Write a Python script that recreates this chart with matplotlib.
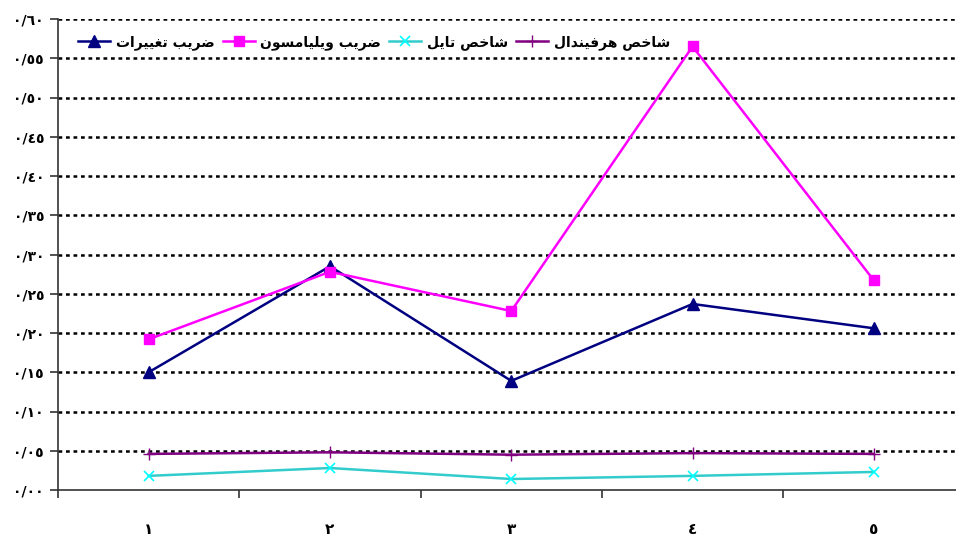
import matplotlib
matplotlib.use("Agg")
import matplotlib.pyplot as plt
from matplotlib.ticker import FixedLocator, NullFormatter

# ---------------------------------------------------------------------
# Data
# ---------------------------------------------------------------------
categories = ["١", "٢", "٣", "٤", "٥"]

cv_values = [0.150, 0.285, 0.139, 0.237, 0.206]          # ضریب تغییرات
williamson_values = [0.192, 0.278, 0.228, 0.565, 0.267]  # ضریب ویلیامسون
theil_values = [0.018, 0.028, 0.014, 0.018, 0.023]       # شاخص تایل
herfindahl_values = [0.046, 0.048, 0.045, 0.047, 0.046]  # شاخص هرفیندال

series_names = ["ضریب تغییرات", "ضریب ویلیامسون", "شاخص تایل", "شاخص هرفیندال"]

ytick_values = [0.00, 0.05, 0.10, 0.15, 0.20, 0.25, 0.30,
                0.35, 0.40, 0.45, 0.50, 0.55, 0.60]
ytick_labels = ["٠/٠٠", "٠/٠٥", "٠/١٠", "٠/١٥", "٠/٢٠", "٠/٢٥", "٠/٣٠",
                "٠/٣٥", "٠/٤٠", "٠/٤٥", "٠/٥٠", "٠/٥٥", "٠/٦٠"]

# ---------------------------------------------------------------------
# matplotlib does no Arabic shaping, so pick the presentation forms by
# hand and reverse the string for right-to-left display.
# forms: (isolated, final, initial, medial)
# ---------------------------------------------------------------------
FORMS = {
    "ا": ("\uFE8D", "\uFE8E", None, None),
    "ب": ("\uFE8F", "\uFE90", "\uFE91", "\uFE92"),
    "ت": ("\uFE95", "\uFE96", "\uFE97", "\uFE98"),
    "خ": ("\uFEA5", "\uFEA6", "\uFEA7", "\uFEA8"),
    "د": ("\uFEA9", "\uFEAA", None, None),
    "ر": ("\uFEAD", "\uFEAE", None, None),
    "س": ("\uFEB1", "\uFEB2", "\uFEB3", "\uFEB4"),
    "ش": ("\uFEB5", "\uFEB6", "\uFEB7", "\uFEB8"),
    "ص": ("\uFEB9", "\uFEBA", "\uFEBB", "\uFEBC"),
    "ض": ("\uFEBD", "\uFEBE", "\uFEBF", "\uFEC0"),
    "غ": ("\uFECD", "\uFECE", "\uFECF", "\uFED0"),
    "ف": ("\uFED1", "\uFED2", "\uFED3", "\uFED4"),
    "ل": ("\uFEDD", "\uFEDE", "\uFEDF", "\uFEE0"),
    "م": ("\uFEE1", "\uFEE2", "\uFEE3", "\uFEE4"),
    "ن": ("\uFEE5", "\uFEE6", "\uFEE7", "\uFEE8"),
    "ه": ("\uFEE9", "\uFEEA", "\uFEEB", "\uFEEC"),
    "و": ("\uFEED", "\uFEEE", None, None),
    "ی": ("\uFBFC", "\uFBFD", "\uFBFE", "\uFBFF"),
}


def dual(ch):
    return ch in FORMS and FORMS[ch][2] is not None


def shape(text):
    out = []
    for i, ch in enumerate(text):
        if ch not in FORMS:
            out.append(ch)
            continue
        prev = text[i - 1] if i > 0 else ""
        nxt = text[i + 1] if i + 1 < len(text) else ""
        join_prev = dual(prev)
        join_next = dual(ch) and nxt in FORMS
        iso, fin, ini, med = FORMS[ch]
        if join_prev and join_next:
            out.append(med)
        elif join_prev:
            out.append(fin)
        elif join_next:
            out.append(ini)
        else:
            out.append(iso)
    return "".join(out)[::-1]


plt.rcParams["font.family"] = ["DejaVu Sans"]
plt.rcParams["font.weight"] = "bold"

fig = plt.figure(figsize=(9.56, 5.37), dpi=100)
ax = fig.add_axes([58 / 956, 47 / 537, 906.5 / 956, 471 / 537])

x = list(range(1, len(categories) + 1))

ax.plot(x, cv_values, color="#000080", lw=1.8, marker="^", ms=9,
        label=shape(series_names[0]), zorder=4)
ax.plot(x, williamson_values, color="#FF00FF", lw=1.8, marker="s", ms=7,
        label=shape(series_names[1]), zorder=4)
ax.plot(x, theil_values, color="#33CCCC", lw=1.8, marker="x", ms=7,
        mec="#00FFFF", mew=1.2, label=shape(series_names[2]), zorder=4)
ax.plot(x, herfindahl_values, color="#800080", lw=1.8, marker="+", ms=8,
        mew=1.0, label=shape(series_names[3]), zorder=4)

ax.set_xlim(0.5, len(categories) + 0.5)
ax.set_ylim(0, 0.60)

# category labels centred, ticks between categories
ax.xaxis.set_major_locator(FixedLocator([i + 0.5 for i in range(len(categories) + 1)]))
ax.xaxis.set_major_formatter(NullFormatter())
ax.xaxis.set_minor_locator(FixedLocator(x))
ax.set_xticklabels(categories, minor=True, fontsize=11, fontweight="bold")
ax.tick_params(axis="x", which="major", length=6, width=1.2, color="#333333", direction="out")
ax.tick_params(axis="x", which="minor", length=0, pad=23)

ax.set_yticks(ytick_values)
ax.set_yticklabels(ytick_labels, fontsize=10, fontweight="bold")
ax.tick_params(axis="y", length=6, width=1.2, color="#333333", direction="out", pad=4)

ax.grid(axis="y", color="black", lw=1.8, linestyle=(0, (1.5, 1.5)))
ax.set_axisbelow(True)
for gl in ax.yaxis.get_gridlines()[:1]:
    gl.set_visible(False)

for side in ("top", "right"):
    ax.spines[side].set_visible(False)
for side in ("left", "bottom"):
    ax.spines[side].set_color("#333333")
    ax.spines[side].set_linewidth(1.2)

leg = ax.legend(loc="upper left", bbox_to_anchor=(0.01, 0.99), ncol=4,
                frameon=False, handlelength=2.3, handletextpad=0.4,
                columnspacing=0.6, borderpad=0.3,
                prop={"weight": "bold", "size": 10})

fig.savefig("out.png", dpi=100)
